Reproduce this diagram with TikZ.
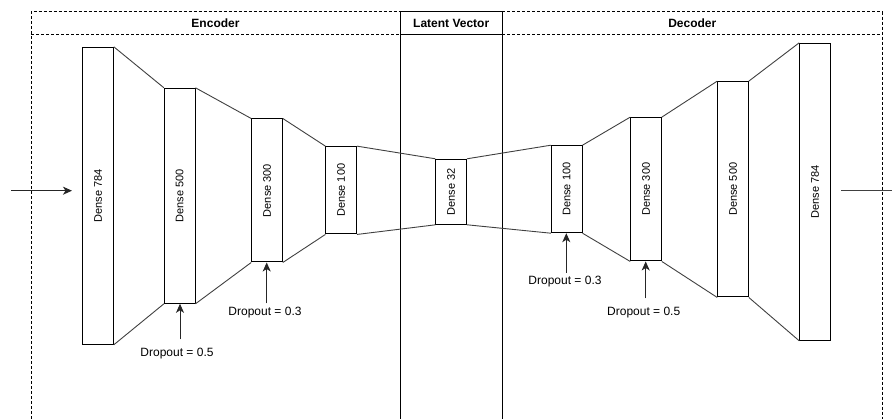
\documentclass[tikz,border=0pt]{standalone}
\usepackage{fontspec}
\setmainfont{Liberation Sans}
\usetikzlibrary{arrows.meta}
\begin{document}
\begin{tikzpicture}[x=1pt,y=-1pt,
  layer/.style={draw=black, line width=1pt, fill=white, minimum width=30.6pt, inner sep=0pt},
  lbl/.style={rotate=90, font=\fontsize{11}{13}\selectfont},
  hdr/.style={font=\bfseries\fontsize{12}{14}\selectfont},
  drop/.style={font=\fontsize{12}{14}\selectfont, anchor=base, inner sep=0pt},
  link/.style={draw=black!75, line width=0.9pt},
  arr/.style={draw=black!85, line width=1pt, -{Stealth[length=9pt,width=8pt,inset=2.5pt]}},
  frame/.style={line width=0.8pt, dash pattern=on 3pt off 2pt},
  solidframe/.style={line width=1pt}]
\useasboundingbox (0,0) rectangle (892,419);

% frame
\draw[frame] (31,419) -- (31,11.7) -- (400,11.7);
\draw[frame] (31,34.3) -- (400,34.3);
\draw[frame] (502.3,11.7) -- (882.3,11.7) -- (882.3,419);
\draw[frame] (502.3,34.3) -- (882.3,34.3);
\draw[solidframe] (400,419) -- (400,11.7) -- (502.3,11.7) -- (502.3,419);
\draw[solidframe] (400,34.3) -- (502.3,34.3);

\node[hdr] (hEnc) at (215.5,23) {Encoder};
\node[hdr] (hLat) at (451.2,23) {Latent Vector};
\node[hdr] (hDec) at (692.3,23) {Decoder};

% layers
\node[layer, minimum height=297pt] (e1) at (98,195.8) {};
\node[layer, minimum height=215pt] (e2) at (179.7,195.8) {};
\node[layer, minimum height=143pt] (e3) at (267,190.5) {};
\node[layer, minimum height=87.3pt] (e4) at (341.2,190.3) {};
\node[layer, minimum height=65pt] (lv) at (451.2,191.8) {};
\node[layer, minimum height=87pt] (d1) at (566.7,189.2) {};
\node[layer, minimum height=143.3pt] (d2) at (646,189.3) {};
\node[layer, minimum height=215.3pt] (d3) at (733,189.3) {};
\node[layer, minimum height=297pt] (d4) at (815,191.8) {};

\node[lbl] at (e1) {Dense 784};
\node[lbl] at (e2) {Dense 500};
\node[lbl] at (e3) {Dense 300};
\node[lbl] at (e4) {Dense 100};
\node[lbl] at (lv) {Dense 32};
\node[lbl] at (d1) {Dense 100};
\node[lbl] at (d2) {Dense 300};
\node[lbl] at (d3) {Dense 500};
\node[lbl] at (d4) {Dense 784};

% links between layers
\foreach \a/\b in {e1/e2,e2/e3,e3/e4,e4/lv,lv/d1,d1/d2,d2/d3,d3/d4}{
  \draw[link] (\a.north east) -- (\b.north west);
  \draw[link] (\a.south east) -- (\b.south west);
}

% input / output
\coordinate (inS) at (11,190.7);
\coordinate (inE) at (72,190.7);
\draw[arr] (inS) -- (inE);
\coordinate (outS) at (841,190.7);
\coordinate (outE) at (892,190.7);
\draw[link] (outS) -- (outE);

% dropout labels
\node[drop] (do1) at (177,356.5) {Dropout = 0.5};
\node[drop] (do2) at (265,315.5) {Dropout = 0.3};
\node[drop] (do3) at (565,284.5) {Dropout = 0.3};
\node[drop] (do4) at (643.7,315.5) {Dropout = 0.5};

\coordinate (a1) at (180,339.3);
\coordinate (a2) at (266.7,303.3);
\coordinate (a3) at (566.3,272.7);
\coordinate (a4) at (645.7,298.3);
\draw[arr] (a1) -- (a1 |- e2.south);
\draw[arr] (a2) -- (a2 |- e3.south);
\draw[arr] (a3) -- (a3 |- d1.south);
\draw[arr] (a4) -- (a4 |- d2.south);
\end{tikzpicture}
\end{document}
